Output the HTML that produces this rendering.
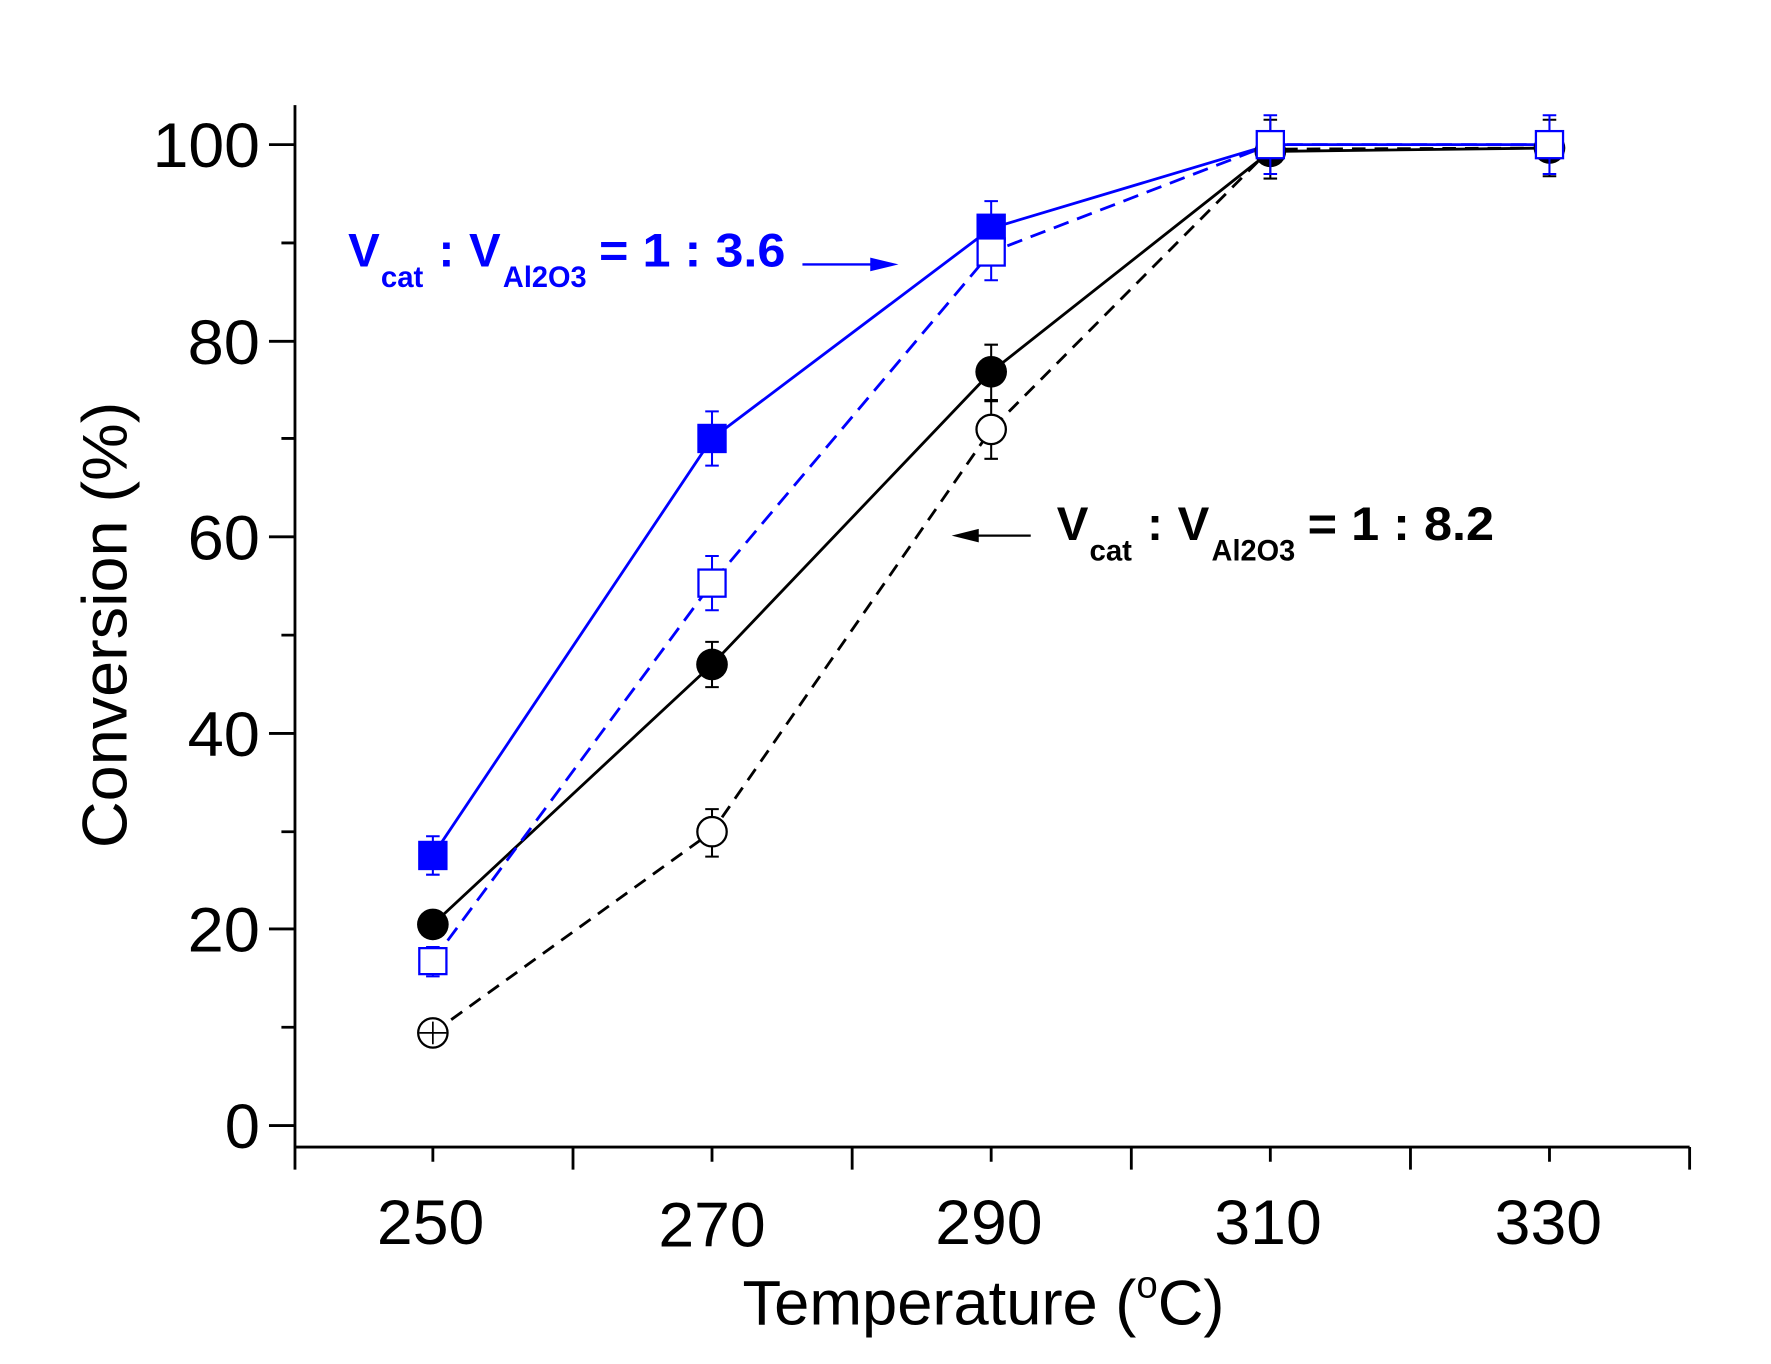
<!DOCTYPE html>
<html><head><meta charset="utf-8"><style>html,body{margin:0;padding:0;background:#fff}svg{display:block}</style></head><body>
<svg width="1771" height="1364" viewBox="0 0 1567 1207" preserveAspectRatio="none" xmlns="http://www.w3.org/2000/svg" font-family="Liberation Sans, sans-serif">
<g stroke="#000" stroke-width="2.5" fill="none">
<line x1="261" y1="93" x2="261" y2="1015"/>
<line x1="261" y1="1015" x2="1495" y2="1015"/>
<path d="M238 996H261M238 822H261M238 649H261M238 475H261M238 302H261M238 128H261"/>
<path d="M249 909H261M249 736H261M249 562H261M249 388H261M249 215H261"/>
<path d="M261 1015V1035M507 1015V1035M754 1015V1035M1001 1015V1035M1248 1015V1035M1495 1015V1035"/>
<path d="M383 1015V1028M630 1015V1028M877 1015V1028M1124 1015V1028M1371 1015V1028"/>
</g>
<g font-size="56" text-anchor="end">
<text x="230" y="1016">0</text><text x="230" y="842" textLength="64" lengthAdjust="spacingAndGlyphs">20</text><text x="230" y="669" textLength="64" lengthAdjust="spacingAndGlyphs">40</text><text x="230" y="495" textLength="64" lengthAdjust="spacingAndGlyphs">60</text><text x="230" y="322" textLength="64" lengthAdjust="spacingAndGlyphs">80</text><text x="230" y="148" textLength="95" lengthAdjust="spacingAndGlyphs">100</text>
</g>
<g font-size="56" text-anchor="middle">
<text x="381" y="1101" textLength="95" lengthAdjust="spacingAndGlyphs">250</text><text x="630" y="1103" textLength="95" lengthAdjust="spacingAndGlyphs">270</text><text x="875" y="1101" textLength="95" lengthAdjust="spacingAndGlyphs">290</text><text x="1122" y="1101" textLength="95" lengthAdjust="spacingAndGlyphs">310</text><text x="1370" y="1101" textLength="95" lengthAdjust="spacingAndGlyphs">330</text>
</g>
<text x="657" y="1172" font-size="56">Temperature (<tspan dy="-24" font-size="34">o</tspan><tspan dy="24">C)</tspan></text>
<text transform="translate(112,553) rotate(-90)" font-size="56" text-anchor="middle" textLength="395" lengthAdjust="spacingAndGlyphs">Conversion (%)</text>

<polyline points="383,914 630,736 877,380 1124,132 1371,131" fill="none" stroke="#000" stroke-width="2.5" stroke-dasharray="12,8"/>
<polyline points="383,818 630,588 877,329 1124,134 1371,131" fill="none" stroke="#000" stroke-width="2.5"/>
<polyline points="383,850 630,516 877,223 1124,128 1371,128" fill="none" stroke="#0000ff" stroke-width="2.5" stroke-dasharray="14,8"/>
<polyline points="383,757 630,388 877,202 1124,128 1371,128" fill="none" stroke="#0000ff" stroke-width="2.5"/>

<g stroke="#000" stroke-width="1.8" fill="none">
<path d="M383 904V924M377 904H389M377 924H389"/>
<path d="M630 716V758M624 716H636M624 758H636"/>
<path d="M877 354V406M871 354H883M871 406H883"/>
<path d="M630 568V608M624 568H636M624 608H636"/>
<path d="M877 305V355M871 305H883M871 355H883"/>
<path d="M1124 106V158M1118 106H1130M1118 158H1130"/>
<path d="M1371 106V156M1365 106H1377M1365 156H1377"/>
</g>
<g fill="#000">
<circle cx="383" cy="818" r="14"/><circle cx="630" cy="588" r="14"/><circle cx="877" cy="329" r="14"/><circle cx="1124" cy="134" r="14"/><circle cx="1371" cy="131" r="14"/>
</g>
<g fill="#fff" stroke="#000" stroke-width="2">
<circle cx="383" cy="914" r="13"/><circle cx="630" cy="736" r="13"/><circle cx="877" cy="380" r="13"/>
</g>
<path d="M383 904V924M371 914H395" stroke="#000" stroke-width="1.5"/>
<g stroke="#0000ff" stroke-width="1.8" fill="none">
<path d="M383 740V774M377 740H389M377 774H389"/>
<path d="M630 364V412M624 364H636M624 412H636"/>
<path d="M877 178V226M871 178H883M871 226H883"/>
<path d="M383 838V864M377 838H389M377 864H389"/>
<path d="M630 492V540M624 492H636M624 540H636"/>
<path d="M877 200V248M871 200H883M871 248H883"/>
<path d="M1124 102V154M1118 102H1130M1118 154H1130"/>
<path d="M1371 102V154M1365 102H1377M1365 154H1377"/>
</g>
<g fill="#0000ff">
<rect x="370" y="744" width="26" height="26"/><rect x="617" y="375" width="26" height="26"/><rect x="864" y="189" width="26" height="26"/>
</g>
<g fill="#fff" stroke="#0000ff" stroke-width="2">
<rect x="371" y="839" width="24" height="23"/><rect x="618" y="504" width="24" height="24"/><rect x="865" y="211" width="24" height="24"/>
<rect x="1112" y="116" width="24" height="24"/><rect x="1359" y="116" width="24" height="24"/>
</g>

<g font-weight="bold" fill="#0000ff">
<text x="308" y="236" font-size="42">V</text>
<text x="337" y="254" font-size="26">cat</text>
<text x="388" y="236" font-size="42">:</text>
<text x="415" y="236" font-size="42">V</text>
<text x="445" y="254" font-size="26" textLength="74" lengthAdjust="spacingAndGlyphs">Al2O3</text>
<text x="530" y="236" font-size="42" textLength="165" lengthAdjust="spacingAndGlyphs">= 1 : 3.6</text>
</g>
<line x1="710" y1="234" x2="775" y2="234" stroke="#0000ff" stroke-width="2"/>
<polygon points="795,234 770,228 770,240" fill="#0000ff"/>
<g font-weight="bold" fill="#000">
<text x="935" y="478" font-size="42">V</text>
<text x="964" y="496" font-size="26">cat</text>
<text x="1015" y="478" font-size="42">:</text>
<text x="1042" y="478" font-size="42">V</text>
<text x="1072" y="496" font-size="26" textLength="74" lengthAdjust="spacingAndGlyphs">Al2O3</text>
<text x="1157" y="478" font-size="42" textLength="165" lengthAdjust="spacingAndGlyphs">= 1 : 8.2</text>
</g>
<line x1="912" y1="474" x2="860" y2="474" stroke="#000" stroke-width="2"/>
<polygon points="842,474 866,468 866,480" fill="#000"/>
</svg>
</body></html>
